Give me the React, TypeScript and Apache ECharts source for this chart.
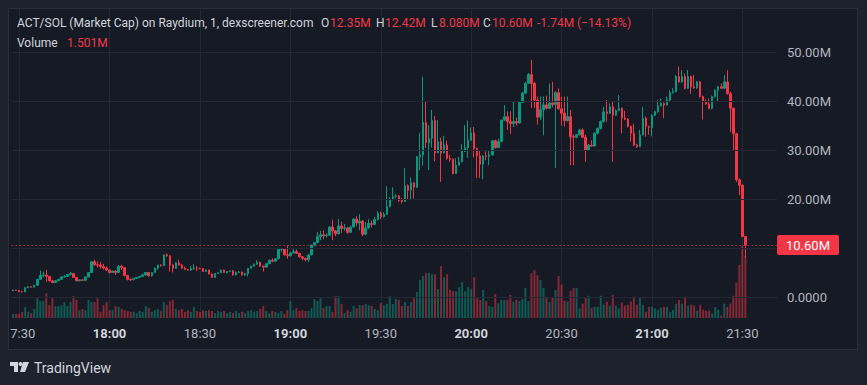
import React, { useEffect, useRef } from 'react';
import * as echarts from 'echarts';

// ---------- data ----------
const START_MINUTE = 17 * 60 + 28; // first candle 17:28, 1-minute candles
const TOTAL_SLOTS = 254; // candles + empty right margin

const timeTicks = ['17:30', '18:00', '18:30', '19:00', '19:30', '20:00', '20:30', '21:00', '21:30'];
const boldTicks = ['18:00', '19:00', '20:00', '21:00'];

const priceLevels = [0, 10, 20, 30, 40, 50];
const priceLabels = ['0.0000', '10.00M', '20.00M', '30.00M', '40.00M', '50.00M'];
const lastPrice = 10.6;
const lastPriceLabel = '10.60M';

const headerTitle = 'ACT/SOL (Market Cap) on Raydium, 1, dexscreener.com';
const headerKeys = ['O', 'H', 'L', 'C', '', ''];
const headerValues = ['12.35M', '12.42M', '8.080M', '10.60M', '-1.74M', '(\u221214.13%)'];
const volumeLabel = 'Volume';
const volumeValue = '1.501M';

// [open, close, low, high] in millions
const ohlc: number[][] = [
  [1.3, 1.4, 1.2, 1.5], [1.4, 1.35, 1.25, 1.45], [1.35, 1.1, 1.0, 1.4], [1.1, 1.05, 0.95, 1.2],
  [1.05, 1.9, 1.0, 2.0], [1.9, 2.1, 1.8, 2.2], [2.1, 2.0, 1.9, 2.2], [2.0, 2.4, 1.95, 2.5],
  [2.4, 3.6, 2.35, 3.7], [3.6, 4.4, 3.5, 5.4], [4.4, 4.5, 4.0, 5.2], [4.5, 4.2, 3.1, 5.5],
  [4.2, 3.3, 3.2, 4.3], [3.3, 2.95, 2.85, 3.4], [2.95, 3.3, 2.9, 3.4], [3.3, 3.6, 3.25, 3.7],
  [3.6, 4.1, 3.5, 4.2], [4.1, 4.2, 4.0, 4.5], [4.2, 4.6, 4.1, 4.7], [4.6, 4.8, 4.4, 5.1],
  [4.8, 4.0, 3.9, 4.9], [4.0, 3.3, 3.2, 4.1], [3.3, 3.5, 3.2, 3.6], [3.5, 3.4, 3.3, 3.6],
  [3.4, 4.1, 3.35, 4.2], [4.1, 5.0, 4.0, 5.1], [5.0, 7.2, 4.9, 7.3], [7.2, 6.6, 6.3, 7.6],
  [6.6, 6.5, 6.0, 7.3], [6.5, 6.2, 5.8, 7.2], [6.2, 5.9, 5.6, 6.8], [5.9, 5.5, 5.3, 6.2],
  [5.5, 5.0, 4.8, 5.6], [5.0, 5.3, 4.9, 5.4], [5.3, 5.0, 4.5, 5.5], [5.0, 6.3, 4.9, 6.5],
  [6.3, 6.0, 5.5, 6.6], [6.0, 4.4, 4.2, 6.1], [4.4, 3.6, 3.4, 4.5], [3.6, 3.5, 3.3, 3.8],
  [3.5, 3.8, 3.4, 3.9], [3.8, 4.0, 3.7, 4.1], [4.0, 4.2, 3.9, 4.3], [4.2, 4.5, 4.1, 4.8],
  [4.5, 5.0, 4.4, 5.1], [5.0, 4.3, 4.2, 5.1],
  [4.3, 5.0, 4.2, 5.1], [5.0, 5.9, 4.9, 6.0], [5.9, 6.5, 5.5, 6.6], [6.5, 6.4, 6.2, 6.7],
  [6.4, 8.6, 6.3, 8.7], [8.6, 8.4, 8.2, 8.9], [8.4, 6.5, 5.2, 8.5], [6.5, 5.85, 5.0, 6.7],
  [5.85, 7.0, 5.8, 7.1], [7.0, 6.5, 6.4, 7.55], [6.5, 5.85, 5.8, 6.8], [5.85, 5.6, 5.5, 6.2],
  [5.6, 5.5, 5.4, 5.7], [5.5, 5.85, 5.3, 6.3], [5.85, 5.9, 5.5, 6.7], [5.9, 5.85, 5.3, 6.3],
  [5.85, 5.8, 5.6, 6.0], [5.8, 5.2, 5.1, 5.9], [5.2, 5.5, 5.1, 5.6], [5.5, 4.7, 4.6, 5.6],
  [4.7, 4.0, 3.9, 4.8], [4.0, 4.8, 3.9, 4.9], [4.8, 4.95, 4.7, 5.0], [4.95, 5.5, 4.9, 5.6],
  [5.5, 5.0, 4.9, 5.6], [5.0, 5.2, 4.8, 5.3], [5.2, 5.35, 5.1, 5.4], [5.35, 4.5, 4.4, 5.5],
  [4.5, 5.0, 4.4, 5.2], [5.0, 5.1, 4.9, 5.3], [5.1, 4.5, 4.4, 5.2], [4.5, 4.8, 4.3, 4.9],
  [4.8, 5.85, 4.2, 5.9], [5.85, 6.3, 5.8, 6.4], [6.3, 6.7, 6.2, 6.8], [6.7, 7.1, 6.6, 7.5],
  [7.1, 6.3, 6.2, 7.2], [6.3, 6.1, 5.2, 6.4], [6.1, 6.8, 6.0, 6.9], [6.8, 7.5, 6.7, 7.6],
  [7.5, 7.3, 7.1, 7.9], [7.3, 7.8, 7.2, 7.9], [7.8, 9.7, 7.7, 9.8], [9.7, 9.8, 9.2, 10.0],
  [9.8, 8.6, 8.5, 9.9], [8.6, 8.4, 7.8, 10.5], [8.4, 9.0, 8.3, 9.1], [9.0, 9.25, 8.9, 10.0],
  [9.25, 8.9, 8.8, 9.7], [8.9, 8.2, 8.1, 9.0], [8.2, 7.9, 7.5, 8.3], [7.9, 7.6, 7.3, 8.0],
  [7.6, 8.6, 7.1, 8.7], [8.6, 10.6, 8.5, 10.7], [10.6, 11.1, 10.4, 11.2], [11.1, 12.3, 11.0, 13.3],
  [12.3, 12.7, 11.6, 13.5], [12.7, 12.5, 11.8, 13.6], [12.5, 12.6, 12.1, 13.0], [12.6, 14.3, 12.5, 14.4],
  [14.3, 13.5, 11.6, 15.8], [13.5, 12.9, 12.4, 13.7], [12.9, 14.5, 12.8, 15.9], [14.5, 14.0, 13.1, 15.4],
  [14.0, 14.1, 13.5, 14.9], [14.1, 13.2, 12.9, 14.3], [13.2, 14.3, 13.1, 14.5], [14.3, 15.9, 14.2, 16.1],
  [15.9, 15.1, 14.5, 16.5], [15.1, 15.5, 13.6, 16.9], [15.5, 12.8, 12.4, 15.7], [12.8, 14.1, 12.6, 15.3],
  [14.1, 15.0, 13.9, 15.9], [15.0, 14.8, 14.2, 15.6], [14.8, 15.8, 14.7, 16.4], [15.8, 17.1, 15.6, 17.5],
  [17.1, 16.4, 15.9, 17.4], [16.4, 16.9, 16.2, 17.3], [16.9, 18.4, 16.8, 22.6], [18.4, 19.9, 18.3, 20.4],
  [19.9, 20.5, 19.7, 22.4], [20.5, 20.6, 20.2, 21.0], [20.6, 19.7, 19.4, 20.8], [19.7, 19.5, 19.1, 20.2],
  [19.5, 22.7, 19.4, 26.3], [22.7, 21.8, 19.9, 23.0], [21.8, 23.3, 19.8, 24.4], [23.3, 22.4, 20.1, 23.5],
  [22.4, 28.6, 22.3, 28.8], [28.6, 29.0, 25.9, 33.5], [29.0, 35.6, 26.8, 45.0], [35.6, 31.5, 30.4, 39.9],
  [31.5, 32.4, 25.9, 35.1], [32.4, 36.0, 30.5, 38.2], [36.0, 29.4, 27.7, 36.9], [29.4, 31.7, 29.3, 36.1],
  [31.7, 29.4, 23.5, 32.5], [29.4, 31.0, 29.3, 32.9], [31.0, 28.3, 28.0, 31.9], [28.3, 28.1, 27.6, 29.0],
  [28.1, 25.2, 25.0, 28.3], [25.2, 26.9, 25.1, 28.3], [26.9, 27.6, 26.8, 28.6], [27.6, 29.7, 27.5, 31.2],
  [29.7, 30.5, 29.6, 35.1], [30.5, 32.0, 28.4, 36.0], [32.0, 33.5, 31.9, 34.6], [33.5, 30.3, 28.5, 34.7],
  [30.3, 28.8, 24.3, 30.5], [28.8, 27.1, 24.3, 29.8], [27.1, 28.8, 24.0, 29.0], [28.8, 28.7, 27.9, 29.7],
  [28.7, 29.0, 26.9, 29.9], [29.0, 31.9, 28.9, 32.0], [31.9, 30.5, 30.3, 32.1], [30.5, 31.7, 30.4, 32.3],
  [31.7, 36.1, 31.6, 36.2], [36.1, 36.8, 35.9, 39.2], [36.8, 35.8, 34.1, 37.9], [35.8, 35.4, 33.3, 37.9],
  [35.4, 35.8, 34.7, 40.0], [35.8, 35.5, 35.0, 36.6], [35.5, 39.7, 35.4, 39.9], [39.7, 41.6, 39.6, 41.9],
  [41.6, 43.6, 41.5, 43.9], [43.6, 45.4, 43.5, 45.7], [45.4, 43.6, 38.6, 48.4], [43.6, 40.2, 38.6, 43.9],
  [40.2, 36.7, 35.2, 40.9], [36.7, 38.2, 36.1, 40.9], [38.2, 39.2, 33.0, 40.9], [39.2, 38.5, 38.3, 41.1],
  [38.5, 39.6, 38.3, 43.6], [39.6, 39.3, 38.7, 43.9], [39.3, 41.7, 26.3, 42.0], [41.7, 38.4, 38.2, 42.6],
  [38.4, 37.5, 35.0, 40.9], [37.5, 36.0, 34.8, 40.9], [36.0, 36.8, 35.8, 40.9], [36.8, 32.7, 26.9, 38.2],
  [32.7, 32.6, 26.9, 33.2], [32.6, 33.1, 32.4, 33.3], [33.1, 34.1, 33.0, 34.3], [34.1, 32.6, 32.4, 34.4],
  [32.6, 30.0, 27.6, 33.1], [30.0, 31.0, 29.8, 31.2], [31.0, 30.8, 30.6, 32.0], [30.8, 33.4, 30.7, 33.6],
  [33.4, 34.4, 33.2, 34.6], [34.4, 35.8, 34.2, 36.0], [35.8, 37.8, 35.6, 38.8], [37.8, 37.5, 35.8, 40.2],
  [37.5, 38.8, 37.3, 39.5], [38.8, 37.1, 27.6, 39.9], [37.1, 38.1, 36.9, 38.3], [38.1, 38.5, 37.9, 41.2],
  [38.5, 36.5, 33.4, 38.7], [36.5, 36.3, 36.1, 38.0], [36.3, 34.8, 34.6, 36.5], [34.8, 33.4, 31.7, 35.0],
  [33.4, 31.0, 30.8, 35.3], [31.0, 30.7, 30.4, 31.3], [30.7, 33.1, 30.6, 34.1], [33.1, 36.5, 33.0, 38.8],
  [36.5, 34.8, 32.7, 36.8], [34.8, 34.6, 33.1, 35.0], [34.6, 37.1, 32.8, 37.3], [37.1, 37.8, 36.9, 38.0],
  [37.8, 39.0, 37.6, 40.2], [39.0, 39.5, 38.9, 40.5], [39.5, 39.2, 36.5, 39.7], [39.2, 40.2, 39.0, 40.9],
  [40.2, 41.7, 40.0, 42.2], [41.7, 41.9, 41.5, 42.6], [41.9, 45.0, 41.8, 45.3], [45.0, 43.9, 43.7, 47.0],
  [43.9, 45.0, 43.7, 46.3], [45.0, 42.6, 42.4, 45.6], [42.6, 45.0, 42.4, 46.3], [45.0, 42.9, 41.5, 45.2],
  [42.9, 42.7, 42.5, 45.3], [42.7, 43.9, 42.5, 44.1], [43.9, 40.9, 40.7, 44.1], [40.9, 39.9, 36.2, 41.1],
  [39.9, 39.4, 39.2, 40.3], [39.4, 38.5, 38.3, 40.5], [38.5, 40.9, 38.3, 41.1], [40.9, 42.2, 40.7, 42.4],
  [42.2, 42.9, 39.9, 43.1], [42.9, 42.6, 42.4, 43.6], [42.6, 43.9, 42.4, 45.3], [43.9, 41.5, 41.3, 46.3],
  [41.5, 38.5, 33.7, 41.9], [38.5, 33.3, 30.0, 38.7], [33.3, 23.9, 23.5, 33.5], [23.9, 22.8, 20.8, 24.2],
  [22.8, 12.35, 12.2, 23.0], [12.35, 10.6, 8.08, 12.42],
];

// volume in millions
const volumes: number[] = [
  0.10, 0.10, 0.10, 0.15, 0.27, 0.15, 0.12, 0.22, 0.48, 0.41, 0.41, 0.60, 0.31, 0.48, 0.29, 0.29,
  0.31, 0.39, 0.29, 0.39, 0.53, 0.44, 0.19, 0.22, 0.19, 0.44, 0.39, 0.39, 0.48, 0.15, 0.31, 0.39,
  0.19, 0.19, 0.29, 0.27, 0.22, 0.19, 0.17, 0.15, 0.15, 0.12, 0.17, 0.15, 0.29, 0.24, 0.15, 0.19,
  0.22, 0.17, 0.39, 0.31, 0.41, 0.44, 0.22, 0.19, 0.22, 0.15, 0.19, 0.15, 0.27, 0.17, 0.15, 0.19,
  0.17, 0.19, 0.17, 0.12, 0.17, 0.15, 0.17, 0.12, 0.15, 0.12, 0.17, 0.12, 0.15, 0.12, 0.17, 0.19,
  0.15, 0.17, 0.22, 0.29, 0.17, 0.12, 0.17, 0.15, 0.12, 0.17, 0.10, 0.19, 0.41, 0.19, 0.24, 0.17,
  0.19, 0.17, 0.17, 0.24, 0.46, 0.41, 0.48, 0.24, 0.29, 0.29, 0.15, 0.53, 0.53, 0.34, 0.12, 0.19,
  0.15, 0.29, 0.24, 0.31, 0.31, 0.34, 0.31, 0.29, 0.22, 0.19, 0.36, 0.31, 0.34, 0.53, 0.34, 0.46,
  0.44, 0.29, 0.39, 0.29, 0.39, 0.48, 0.63, 0.92, 1.02, 1.09, 1.09, 1.06, 1.06, 0.70, 1.26, 0.99,
  1.06, 0.68, 0.65, 0.65, 0.75, 0.87, 0.65, 0.75, 0.70, 0.99, 0.48, 0.44, 0.68, 0.41, 0.29, 0.27,
  0.58, 0.36, 0.44, 0.44, 0.44, 0.56, 0.39, 0.44, 0.41, 0.46, 0.73, 0.41, 1.09, 1.16, 1.04, 0.92,
  0.73, 0.51, 0.39, 0.51, 0.68, 1.02, 0.81, 0.42, 0.40, 0.66, 0.73, 0.73, 0.23, 0.35, 0.49, 0.54,
  0.25, 0.27, 0.27, 0.54, 0.32, 0.40, 0.30, 0.56, 0.30, 0.23, 0.37, 0.30, 0.32, 0.40, 0.52, 0.32,
  0.49, 0.32, 0.15, 0.27, 0.27, 0.23, 0.20, 0.25, 0.27, 0.27, 0.15, 0.20, 0.35, 0.44, 0.35, 0.52,
  0.30, 0.32, 0.30, 0.18, 0.32, 0.20, 0.18, 0.18, 0.11, 0.27, 0.20, 0.06, 0.35, 0.27, 0.35, 0.54,
  0.86, 1.29, 1.75, 1.501,
];

// ---------- styling ----------
const PANEL = '#161a25';
const OUTER = '#1e222d';
const GRID = '#232733';
const UP = '#089981';
const DOWN = '#f23645';
const UP_VOL = 'rgba(8,153,129,0.5)';
const DOWN_VOL = 'rgba(242,54,69,0.5)';
const TEXT = '#d1d4dc';
const AXIS_TEXT = '#b2b5be';
const FONT = 'Roboto, "Noto Sans", sans-serif';

const Y_MIN = -4.2857;
const Y_MAX = 58.776;
const VOL_MAX = 7.5;

function fmtTime(m: number): string {
  const h = Math.floor(m / 60);
  const mm = m % 60;
  return `${h}:${String(mm).padStart(2, '0')}`;
}

export default function App() {
  const ref = useRef<HTMLDivElement>(null);

  useEffect(() => {
    document.body.style.margin = '0';
    document.body.style.background = OUTER;
    const chart = echarts.init(ref.current as HTMLDivElement, null, { renderer: 'svg' });

    const categories: string[] = [];
    for (let i = 0; i < TOTAL_SLOTS; i++) categories.push(fmtTime(START_MINUTE + i));
    const isTick = (_i: number, v: string) => timeTicks.indexOf(v) >= 0;

    const volData = volumes.map((v, i) => ({
      value: v,
      itemStyle: { color: ohlc[i][1] >= ohlc[i][0] ? UP_VOL : DOWN_VOL },
    }));

    const headerX = [321, 376, 431, 483, 537, 577];
    const headerValX = [330, 385, 439, 492, 537, 577];
    const font12 = `12px ${FONT}`;

    const graphics: any[] = [
      { type: 'rect', z: 100, shape: { x: 0, y: 0, width: 867, height: 9 }, style: { fill: OUTER } },
      { type: 'rect', z: 100, shape: { x: 0, y: 0, width: 9, height: 385 }, style: { fill: OUTER } },
      { type: 'rect', z: 100, shape: { x: 857, y: 0, width: 10, height: 385 }, style: { fill: OUTER } },
      { type: 'rect', z: 100, shape: { x: 0, y: 349, width: 867, height: 36 }, style: { fill: OUTER } },
      { type: 'rect', z: 101, shape: { x: 8.5, y: 8.5, width: 849, height: 341 }, style: { fill: 'none', stroke: '#2a2e39', lineWidth: 1 } },
      { type: 'text', z: 102, style: { text: headerTitle, x: 17, y: 23, fill: TEXT, font: font12, verticalAlign: 'middle' } },
      { type: 'text', z: 102, style: { text: volumeLabel, x: 17, y: 43, fill: TEXT, font: font12, verticalAlign: 'middle' } },
      { type: 'text', z: 102, style: { text: volumeValue, x: 67, y: 43, fill: DOWN, font: font12, verticalAlign: 'middle' } },
      // TradingView logo
      { type: 'rect', z: 102, shape: { x: 10, y: 362, width: 8, height: 4 }, style: { fill: TEXT } },
      { type: 'rect', z: 102, shape: { x: 14, y: 362, width: 4, height: 10 }, style: { fill: TEXT } },
      { type: 'circle', z: 102, shape: { cx: 20.5, cy: 364, r: 2 }, style: { fill: TEXT } },
      { type: 'polygon', z: 102, shape: { points: [[23, 362], [29, 362], [25, 372], [20, 372]] }, style: { fill: TEXT } },
      { type: 'text', z: 102, style: { text: 'TradingView', x: 34, y: 368, fill: TEXT, font: `14px ${FONT}`, verticalAlign: 'middle' } },
    ];
    headerKeys.forEach((k, i) => {
      if (k) graphics.push({ type: 'text', z: 102, style: { text: k, x: headerX[i], y: 23, fill: TEXT, font: font12, verticalAlign: 'middle' } });
      graphics.push({ type: 'text', z: 102, style: { text: headerValues[i], x: headerValX[i], y: 23, fill: DOWN, font: font12, verticalAlign: 'middle' } });
    });

    chart.setOption({
      animation: false,
      backgroundColor: PANEL,
      textStyle: { fontFamily: FONT },
      grid: { left: 9, right: 90, top: 9, bottom: 67 },
      xAxis: {
        type: 'category',
        data: categories,
        boundaryGap: true,
        axisLine: { show: true, lineStyle: { color: '#2a2e39' } },
        axisTick: { show: false },
        axisLabel: {
          interval: isTick,
          margin: 9,
          formatter: (v: string) => (boldTicks.indexOf(v) >= 0 ? `{b|${v}}` : `{n|${v}}`),
          rich: {
            b: { fontWeight: 'bold', color: TEXT, fontSize: 13, fontFamily: FONT },
            n: { color: AXIS_TEXT, fontSize: 13, fontFamily: FONT },
          },
        },
        splitLine: { show: true, interval: isTick, alignWithLabel: true, lineStyle: { color: GRID, width: 1 } },
      },
      yAxis: [
        { type: 'value', min: Y_MIN, max: Y_MAX, show: false, splitLine: { show: false } },
        { type: 'value', min: 0, max: VOL_MAX, show: false, splitLine: { show: false } },
      ],
      graphic: graphics,
      series: [
        {
          type: 'line',
          name: 'grid',
          data: [],
          z: 0,
          silent: true,
          markLine: {
            silent: true,
            symbol: 'none',
            animation: false,
            lineStyle: { color: GRID, type: 'solid', width: 1 },
            label: { position: 'end', distance: 10, color: AXIS_TEXT, fontSize: 13, fontFamily: FONT },
            data: priceLevels.map((p, k) => ({
              yAxis: p,
              label: { show: p !== 10, formatter: priceLabels[k] },
            })),
          },
        },
        {
          type: 'bar',
          name: 'Volume',
          xAxisIndex: 0,
          yAxisIndex: 1,
          data: volData,
          barWidth: 2,
          z: 1,
          silent: true,
        },
        {
          type: 'candlestick',
          name: 'ACT/SOL',
          data: ohlc,
          barWidth: 2,
          z: 3,
          itemStyle: { color: UP, color0: DOWN, borderColor: UP, borderColor0: DOWN, borderWidth: 1 },
          markLine: {
            silent: true,
            symbol: 'none',
            animation: false,
            lineStyle: { color: DOWN, type: [1, 3], width: 1 },
            label: {
              position: 'end',
              distance: 0,
              formatter: lastPriceLabel,
              color: '#ffffff',
              backgroundColor: DOWN,
              fontSize: 13,
              fontFamily: FONT,
              padding: [4, 9, 3, 9],
              borderRadius: 2,
            },
            data: [{ yAxis: lastPrice }],
          },
        },
      ],
    });
    return () => chart.dispose();
  }, []);

  return <div ref={ref} style={{ width: 867, height: 385 }} />;
}
